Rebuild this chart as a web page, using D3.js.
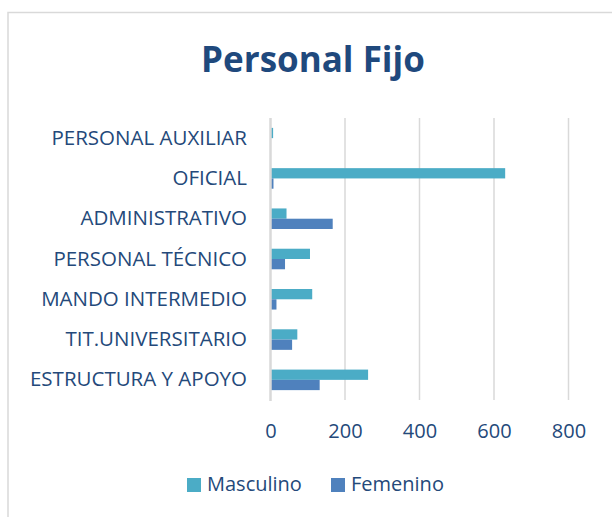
<!DOCTYPE html>
<html>
<head>
<meta charset="utf-8">
<script src="https://cdn.jsdelivr.net/npm/d3@7"></script>
<style>
  body { margin: 0; background: #fff; }
  text { font-family: "Open Sans", "Liberation Sans", sans-serif; fill: #24497a; }
</style>
</head>
<body>
<div class="chart"></div>
<script>

// data
var categories = ["PERSONAL AUXILIAR", "OFICIAL", "ADMINISTRATIVO", "PERSONAL TÉCNICO",
                  "MANDO INTERMEDIO", "TIT.UNIVERSITARIO", "ESTRUCTURA Y APOYO"];
var seriesNames = ["Masculino", "Femenino"];
var masculino = [7, 630, 43, 106, 112, 72, 262];
var femenino = [0, 8, 167, 39, 16, 58, 132];
var xTicks = [0, 200, 400, 600, 800];

var colors = { "Masculino": "#4bacc6", "Femenino": "#4f81bd" };

// set plot parameters
var width = 612;
var height = 517;

var svg = d3.select('.chart').append('svg')
            .attr('width', width)
            .attr('height', height);

// outer frame of the chart area (cut off on the right and bottom)
svg.append('rect')
   .attr('x', 8).attr('y', 12.5)
   .attr('width', 640).attr('height', 560)
   .attr('fill', 'none')
   .attr('stroke', '#d9d9d9')
   .attr('stroke-width', 1.5);

svg.append('text')
   .attr('x', 313).attr('y', 72)
   .attr('text-anchor', 'middle')
   .style('font-size', '35px')
   .style('font-weight', 'bold')
   .style('fill', '#1f497d')
   .text('Personal Fijo');

var rows = categories.map(function(c, i) {
  return { cat: c, values: [
    { name: "Masculino", v: masculino[i] },
    { name: "Femenino", v: femenino[i] }
  ]};
});

var x = d3.scaleLinear()
          .domain([0, 800])
          .range([270.5, 568.5]);

var y0 = d3.scaleBand()
           .domain(categories)
           .range([118, 400])
           .paddingInner(0.49)
           .paddingOuter(0.245);

var y1 = d3.scaleBand()
           .domain(seriesNames)
           .range([0, y0.bandwidth()]);

// gridlines
svg.append('g').selectAll('line')
   .data(xTicks.slice(1))
   .enter().append('line')
   .attr('x1', function(d){ return x(d); })
   .attr('x2', function(d){ return x(d); })
   .attr('y1', 118).attr('y2', 400)
   .attr('stroke', '#d9d9d9')
   .attr('stroke-width', 1.5);

var groups = svg.append('g').selectAll('g')
   .data(rows)
   .enter().append('g')
   .attr('transform', function(d){ return 'translate(0,' + y0(d.cat) + ')'; });

groups.selectAll('rect')
   .data(function(d){ return d.values; })
   .enter().append('rect')
   .attr('x', x(0))
   .attr('y', function(d){ return y1(d.name); })
   .attr('height', y1.bandwidth())
   .attr('width', function(d){ return x(d.v) - x(0); })
   .attr('fill', function(d){ return colors[d.name]; });

// zero line
svg.append('line')
   .attr('x1', x(0)).attr('x2', x(0))
   .attr('y1', 118).attr('y2', 401)
   .attr('stroke', '#d9d9d9')
   .attr('stroke-width', 2.5);

// category labels
var yAxis = d3.axisLeft(y0).tickSize(0).tickPadding(0);
var yG = svg.append('g')
   .attr('transform', 'translate(247,0)')
   .call(yAxis);
yG.select('.domain').remove();
yG.selectAll('text')
  .style('font-size', '20.5px')
  .style('font-family', '"Open Sans", sans-serif')
  .attr('fill', '#24497a');

// value axis
var xAxis = d3.axisBottom(x).tickValues(xTicks).tickSize(0).tickPadding(0);
var xG = svg.append('g')
   .attr('transform', 'translate(0,424)')
   .call(xAxis);
xG.select('.domain').remove();
xG.selectAll('text')
  .style('font-size', '20px')
  .style('font-family', '"Open Sans", sans-serif')
  .attr('fill', '#24497a');

// legend
var legend = svg.append('g').selectAll('g')
   .data(seriesNames)
   .enter().append('g')
   .attr('transform', function(d, i){ return 'translate(' + [187, 331][i] + ',478)'; });

legend.append('rect')
   .attr('width', 14).attr('height', 14)
   .attr('fill', function(d){ return colors[d]; });

legend.append('text')
   .attr('x', 20).attr('y', 6)
   .attr('dy', '0.35em')
   .style('font-size', '20px')
   .text(function(d){ return d; });

</script>
</body>
</html>
